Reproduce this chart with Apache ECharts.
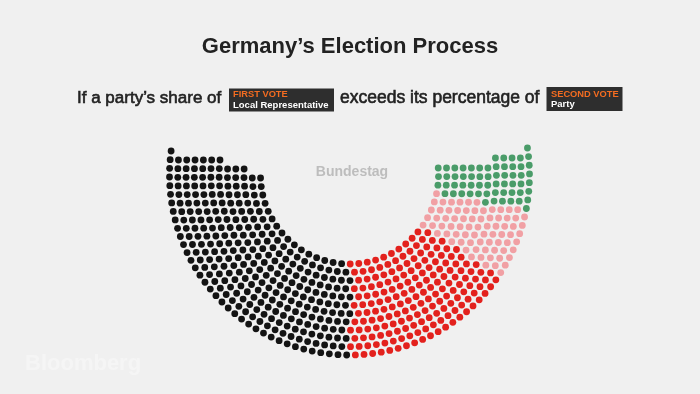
<!DOCTYPE html>
<html><head><meta charset="utf-8">
<script src="https://cdn.jsdelivr.net/npm/echarts@6/dist/echarts.min.js"></script>
<style>html,body{margin:0;padding:0;background:#f0f0f0}#c{width:700px;height:394px}</style>
</head><body><div id="c"></div>
<script>
// ---- data ----
const groups = ['Black', 'Red', 'Pink', 'Green'];
const seats = [315, 180, 75, 60];
const titleText = 'Germany’s Election Process';
const introText = 'If a party’s share of';
const midText = 'exceeds its percentage of';
const box1Top = 'FIRST VOTE';
const box1Bottom = 'Local Representative';
const box2Top = 'SECOND VOTE';
const box2Bottom = 'Party';
const chamberLabel = 'Bundestag';

// ---- styles ----
const groupColors = ['#141414', '#e3211d', '#f1a0a4', '#4a9c69'];
const FONT = '"Liberation Sans", Arial, sans-serif';

// ---- parliament layout (rings of seats) ----
const RINGS = 12, R_OUT = 180, R_IN = 89;
const leftLift  = [24, 15, 15, 15, 15, 15, 15, 6, 6, 6, -3, -3];
const rightLift = [27, 17, 17, 17, 17, 7, 7, 7, 7, 7, 7, 7];
const total = seats.reduce((a, b) => a + b, 0);
const rings = [];
for (let i = 0; i < RINGS; i++) {
  const r = R_OUT - i * (R_OUT - R_IN) / (RINGS - 1);
  const aL = Math.asin(leftLift[i] / r), aR = Math.asin(rightLift[i] / r);
  const span = Math.PI + aL + aR;
  rings.push({ r, aL, aR, span, arc: r * span });
}
const totArc = rings.reduce((a, g) => a + g.arc, 0);
const gaps = total - RINGS;
let used = 0;
rings.forEach(g => { g.raw = g.arc / totArc * gaps; g.gaps = Math.floor(g.raw); used += g.gaps; });
rings.slice().sort((a, b) => (b.raw - b.gaps) - (a.raw - a.gaps))
  .slice(0, gaps - used).forEach(g => g.gaps++);
const dots = [];
rings.forEach(g => {
  const n = g.gaps + 1;
  const start = 180 - g.aL * 180 / Math.PI;
  const step = g.span / g.gaps * 180 / Math.PI;
  for (let j = 0; j < n; j++) dots.push([g.r, start + j * step]);
});
dots.sort((a, b) => a[1] - b[1] || b[0] - a[0]);
const seriesData = [];
let k = 0;
seats.forEach((c, gi) => { seriesData.push(dots.slice(k, k + c)); k += c; });

const chart = echarts.init(document.getElementById('c'), null, { renderer: 'canvas' });
chart.setOption({
  backgroundColor: '#f0f0f0',
  animation: false,
  title: {
    text: titleText, left: 'center', top: 35.5, padding: 0,
    textStyle: { fontFamily: FONT, fontSize: 22, fontWeight: 'bold', color: '#222' }
  },
  polar: { center: [349.5, 175], radius: 200 },
  angleAxis: { type: 'value', min: 90, max: 450, startAngle: 90, clockwise: false, show: false },
  radiusAxis: { type: 'value', min: 0, max: 200, show: false },
  series: groups.map((name, gi) => ({
    name, type: 'scatter', coordinateSystem: 'polar',
    symbol: 'circle', symbolSize: 6.8,
    itemStyle: { color: groupColors[gi], opacity: 1 },
    emphasis: { disabled: true },
    data: seriesData[gi]
  })),
  graphic: [
    { type: 'text', x: 77, y: 98.5, style: { text: introText, fill: '#222', font: '17px ' + FONT, verticalAlign: 'middle', stroke: '#222', lineWidth: 0.6 } },
    { type: 'rect', shape: { x: 229, y: 88.5, width: 105, height: 23 }, style: { fill: '#2e2e2e' } },
    { type: 'text', x: 233, y: 94.5, style: { text: box1Top, fill: '#f36c21', font: 'bold 9.3px ' + FONT, verticalAlign: 'middle' } },
    { type: 'text', x: 233, y: 105, style: { text: box1Bottom, fill: '#ffffff', font: 'bold 9.5px ' + FONT, verticalAlign: 'middle' } },
    { type: 'text', x: 340, y: 98.5, style: { text: midText, fill: '#222', font: '17.5px ' + FONT, verticalAlign: 'middle', stroke: '#222', lineWidth: 0.6 } },
    { type: 'rect', shape: { x: 546.5, y: 87, width: 76, height: 24 }, style: { fill: '#2e2e2e' } },
    { type: 'text', x: 551, y: 94, style: { text: box2Top, fill: '#f36c21', font: 'bold 9.3px ' + FONT, verticalAlign: 'middle' } },
    { type: 'text', x: 551, y: 104.5, style: { text: box2Bottom, fill: '#ffffff', font: 'bold 9.5px ' + FONT, verticalAlign: 'middle' } },
    { type: 'text', x: 352, y: 172, style: { text: chamberLabel, fill: '#bdbdbd', font: 'bold 14px ' + FONT, align: 'center', verticalAlign: 'middle' } },
    { type: 'text', x: 25, y: 364, style: { text: 'Bloomberg', fill: '#f5f5f5', font: 'bold 22px ' + FONT, verticalAlign: 'middle' } }
  ]
});
</script>
</body></html>
